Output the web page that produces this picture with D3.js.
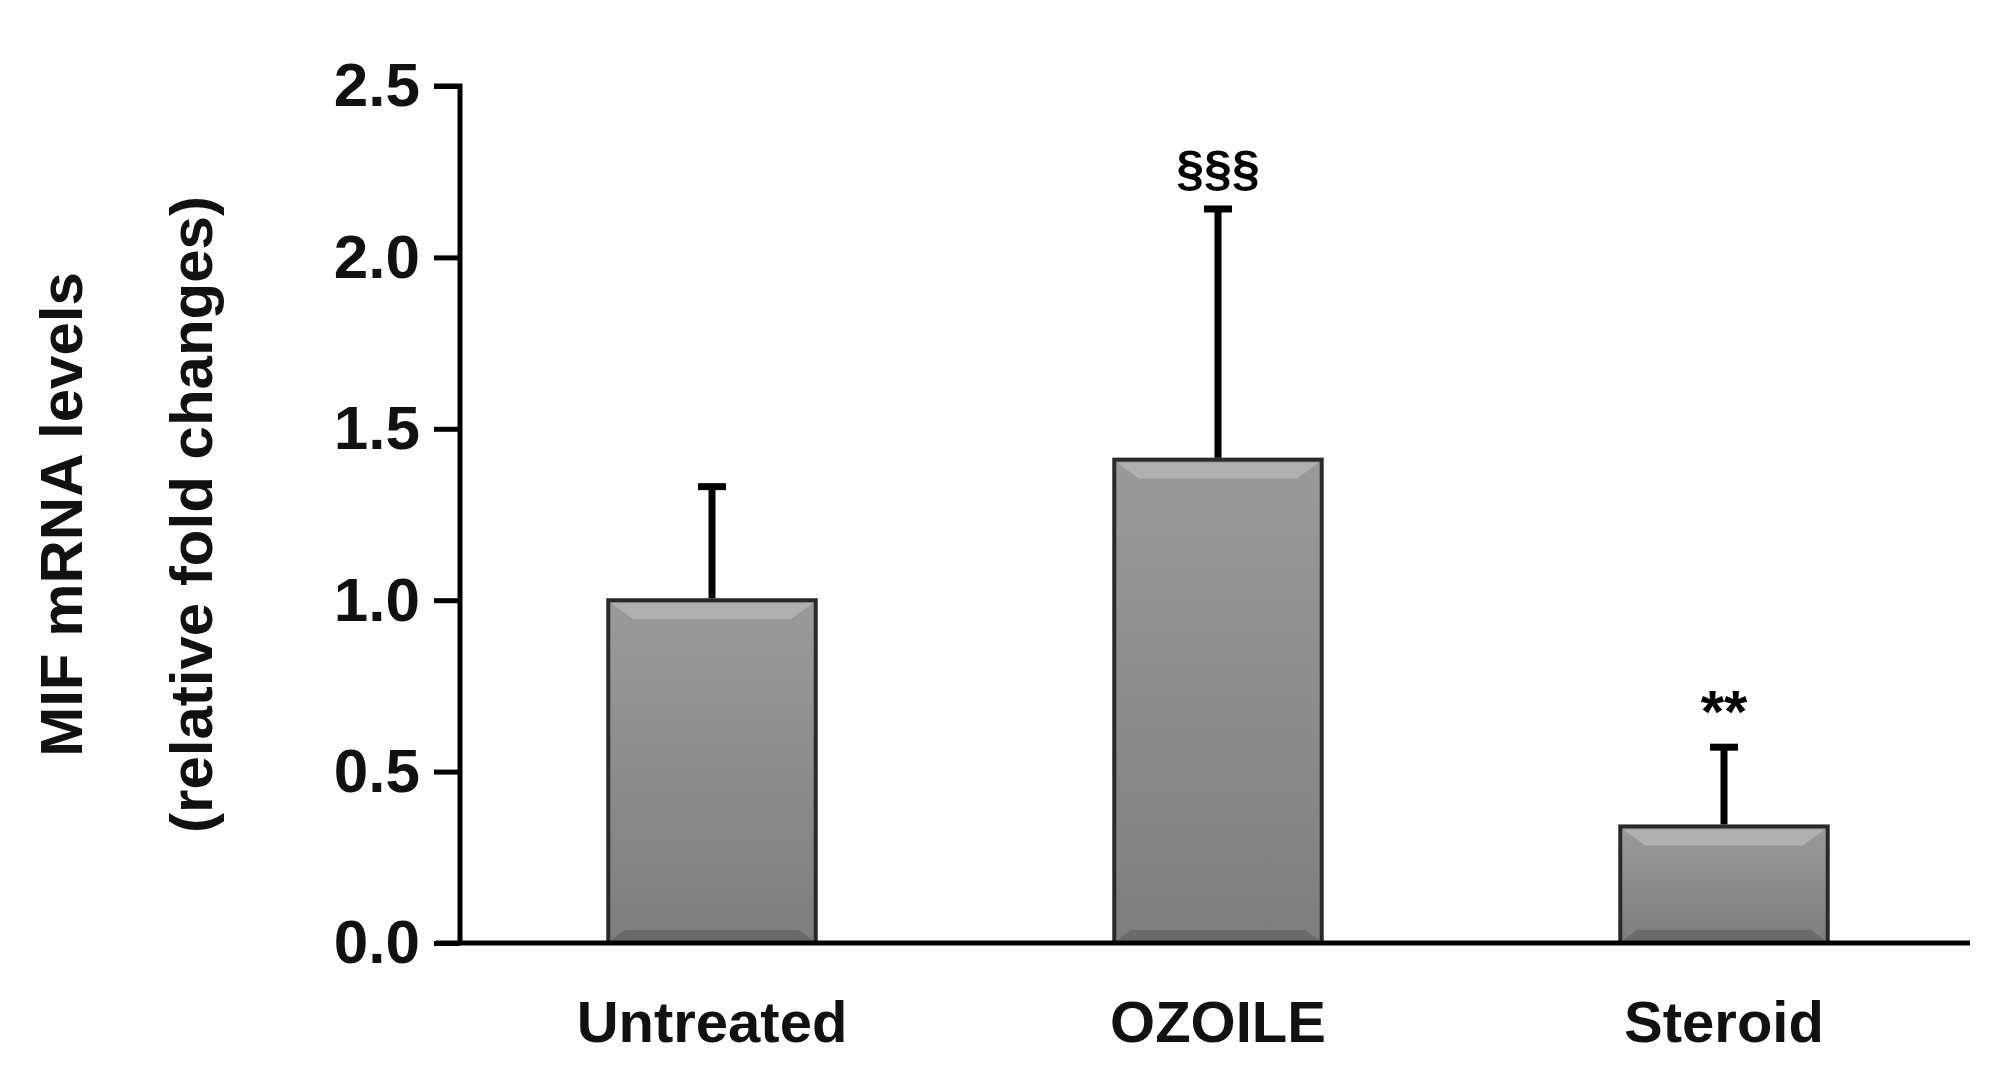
<!DOCTYPE html>
<html>
<head>
<meta charset="UTF-8">
<script src="https://cdnjs.cloudflare.com/ajax/libs/d3/7.8.5/d3.min.js"></script>
<style>
  body, html { margin: 0; padding: 0; background: #fff; overflow: hidden; }
  text { font-family: "Liberation Sans", Arial, sans-serif; font-weight: bold; }
</style>
</head>
<body>
<div id="chart"></div>
<script>
const categories = ["Untreated", "OZOILE", "Steroid"];
const means = [1.0, 1.41, 0.34];
const errors = [0.34, 0.74, 0.24];
const marks = ["", "§§§", "**"];
const yTicks = [0, 0.5, 1.0, 1.5, 2.0, 2.5];

const width = 2005, height = 1069;
const svg = d3.select("#chart").append("svg")
    .attr("width", width).attr("height", height);

const defs = svg.append("defs");
const grad = defs.append("linearGradient").attr("id", "barGrad")
    .attr("x1", 0).attr("y1", 0).attr("x2", 0).attr("y2", 1);
grad.append("stop").attr("offset", "0%").attr("stop-color", "#9a9a9a");
grad.append("stop").attr("offset", "100%").attr("stop-color", "#7e7e7e");

const x = d3.scaleBand().domain(categories).range([459, 1977]).paddingInner(0.59).paddingOuter(0.295);
const y = d3.scaleLinear().domain([0, 2.5]).range([943, 86]);

// bars
const bars = svg.selectAll(".bar").data(categories).enter().append("g");
bars.append("rect")
    .attr("x", d => x(d))
    .attr("y", (d, i) => y(means[i]))
    .attr("width", x.bandwidth())
    .attr("height", (d, i) => y(0) - y(means[i]))
    .attr("fill", "url(#barGrad)")
    .attr("stroke", "#2a2a2a").attr("stroke-width", 4);
// bevel highlight at top
bars.append("path")
    .attr("d", (d, i) => {
        const x0 = x(d) + 3, x1 = x(d) + x.bandwidth() - 3, t = y(means[i]) + 3;
        return `M${x0},${t}L${x1},${t}L${x1 - 22},${t + 16}L${x0 + 22},${t + 16}Z`;
    })
    .attr("fill", "#b0b0b0");
bars.append("path")
    .attr("d", (d, i) => {
        const x0 = x(d) + 3, x1 = x(d) + x.bandwidth() - 3, b = y(0) - 3;
        return `M${x0},${b}L${x1},${b}L${x1 - 14},${b - 10}L${x0 + 14},${b - 10}Z`;
    })
    .attr("fill", "#6a6a6a");

// error bars
const cx = d => x(d) + x.bandwidth() / 2;
bars.append("line")
    .attr("x1", cx).attr("x2", cx)
    .attr("y1", (d, i) => y(means[i]) - 2)
    .attr("y2", (d, i) => y(means[i] + errors[i]))
    .attr("stroke", "#000").attr("stroke-width", 7);
bars.append("line")
    .attr("x1", d => cx(d) - 14).attr("x2", d => cx(d) + 14)
    .attr("y1", (d, i) => y(means[i] + errors[i]) + 3)
    .attr("y2", (d, i) => y(means[i] + errors[i]) + 3)
    .attr("stroke", "#000").attr("stroke-width", 7);
bars.append("text")
    .attr("x", cx)
    .attr("y", (d, i) => y(means[i] + errors[i]) - (i === 1 ? 20 : 12))
    .attr("text-anchor", "middle")
    .attr("font-size", (d, i) => i === 1 ? 50 : 60)
    .attr("font-weight", (d, i) => i === 1 ? "normal" : "bold")
    .text((d, i) => marks[i]);

// y axis
const yAxis = svg.append("g").attr("transform", "translate(460,0)")
    .call(d3.axisLeft(y).tickValues(yTicks).tickFormat(d3.format(".1f")).tickSize(26).tickPadding(14));
yAxis.select(".domain").attr("stroke-width", 5).attr("d", `M-26,${y(2.5)}H0V${y(0)}`);
yAxis.selectAll(".tick line").attr("stroke-width", 5);
yAxis.selectAll(".tick text").attr("font-size", 62).attr("fill", "#111")
    .attr("font-family", "'Liberation Sans', Arial, sans-serif").attr("font-weight", "bold");

// x axis
svg.append("line").attr("x1", 436).attr("x2", 1970)
    .attr("y1", y(0)).attr("y2", y(0))
    .attr("stroke", "#000").attr("stroke-width", 5);
svg.selectAll(".xlab").data(categories).enter().append("text")
    .attr("x", cx).attr("y", 1042)
    .attr("text-anchor", "middle").attr("font-size", 58).attr("fill", "#111")
    .text(d => d);

// y title
const midY = (y(0) + y(2.5)) / 2;
svg.append("text").attr("transform", `translate(82,${midY}) rotate(-90)`)
    .attr("text-anchor", "middle").attr("font-size", 60).attr("fill", "#111")
    .text("MIF mRNA levels");
svg.append("text").attr("transform", `translate(212,${midY}) rotate(-90)`)
    .attr("text-anchor", "middle").attr("font-size", 60).attr("fill", "#111")
    .text("(relative fold changes)");
</script>
</body>
</html>
